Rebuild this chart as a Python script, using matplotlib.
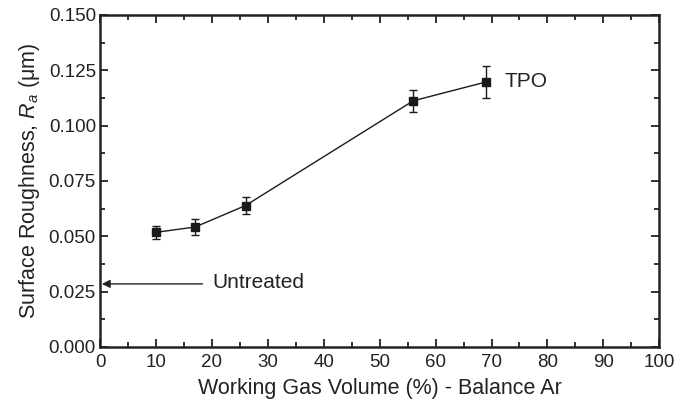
import matplotlib
matplotlib.use("Agg")
import matplotlib.pyplot as plt
from matplotlib.ticker import MultipleLocator, FormatStrFormatter

# data
gas_volume = [10, 17, 26, 56, 69]
roughness = [0.0518, 0.0542, 0.0639, 0.1112, 0.1197]
roughness_err = [0.0030, 0.0034, 0.0040, 0.0051, 0.0071]
untreated = 0.0285

plt.rcParams["font.family"] = ["Liberation Sans", "DejaVu Sans"]
plt.rcParams["mathtext.fontset"] = "custom"
plt.rcParams["mathtext.rm"] = "Liberation Sans"
plt.rcParams["mathtext.it"] = "Liberation Sans:italic"

fig = plt.figure(figsize=(6.86, 4.03), dpi=100)
ax = fig.add_axes([0.146, 0.139, 0.815, 0.824])

ax.errorbar(gas_volume, roughness, yerr=roughness_err, color="#1a1a1a",
            marker="s", markersize=6, linewidth=1.0, elinewidth=1.0,
            capsize=3, capthick=1.0)

ax.text(72.4, roughness[-1], "TPO", fontsize=15, va="center", ha="left", color="#222222")

# untreated reference arrow
ax.annotate("", xy=(0.3, untreated), xytext=(18.3, untreated),
            arrowprops=dict(arrowstyle="-|>", color="#222222", lw=1.0,
                            mutation_scale=12, shrinkA=0, shrinkB=0))
ax.text(20, untreated + 0.0008, "Untreated", fontsize=15, va="center", ha="left", color="#222222")

ax.set_xlim(0, 100)
ax.set_ylim(0, 0.150)
ax.xaxis.set_major_locator(MultipleLocator(10))
ax.xaxis.set_minor_locator(MultipleLocator(5))
ax.yaxis.set_major_locator(MultipleLocator(0.025))
ax.yaxis.set_minor_locator(MultipleLocator(0.0125))
ax.yaxis.set_major_formatter(FormatStrFormatter("%.3f"))

ax.tick_params(which="both", direction="in", top=True, right=True,
               labelsize=13.5, width=1.3, colors="#222222")
ax.tick_params(axis="x", pad=5)
ax.tick_params(axis="y", pad=3)
ax.tick_params(which="major", length=6)
ax.tick_params(which="minor", length=3.5)
for s in ax.spines.values():
    s.set_linewidth(1.8)
    s.set_color("#222222")

ax.set_xlabel("Working Gas Volume (%) - Balance Ar", fontsize=15.5, color="#222222", labelpad=5)
ax.set_ylabel(r"Surface Roughness, $\mathit{R_a}$ ($\mathrm{\mu}$m)", fontsize=15.5,
              color="#222222", labelpad=5)

plt.savefig("out.png", dpi=100)
plt.close()
